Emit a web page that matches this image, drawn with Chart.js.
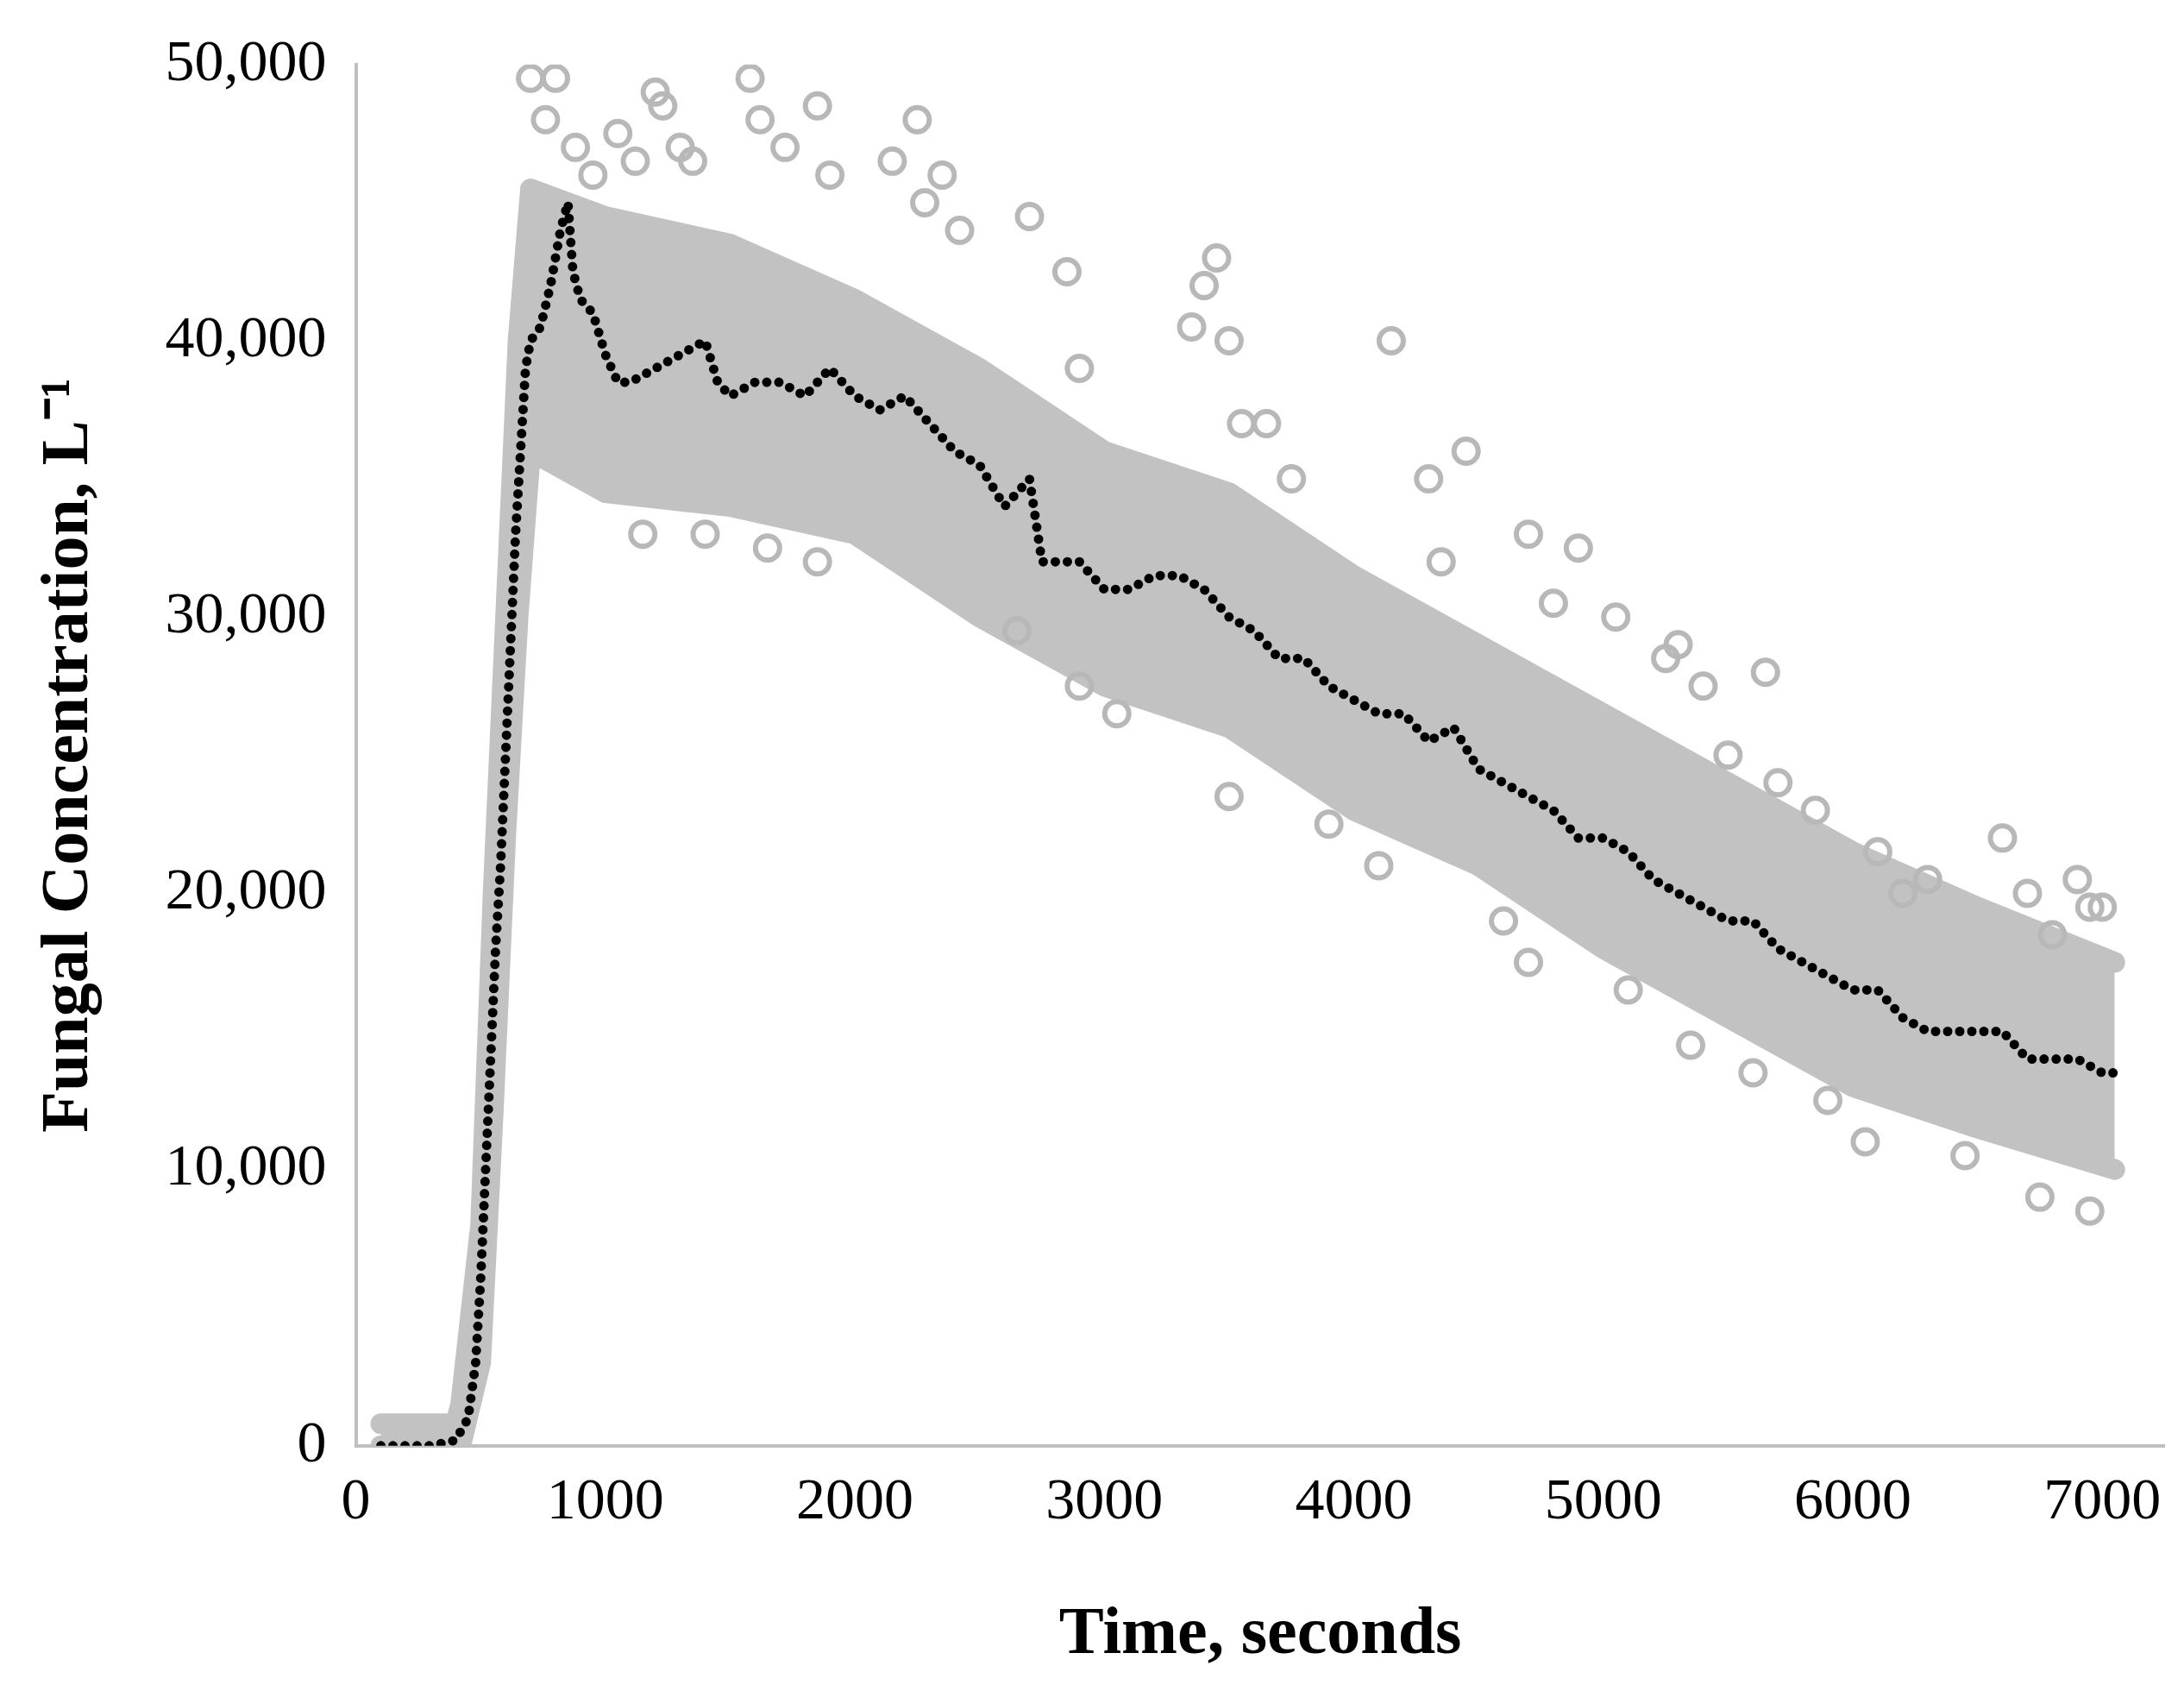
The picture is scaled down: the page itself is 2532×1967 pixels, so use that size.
<!DOCTYPE html>
<html lang="en">
<head>
  <meta charset="UTF-8" />
  <title>Fungal Concentration</title>
  <script src="https://cdn.jsdelivr.net/npm/chart.js"></script>
  <style>
    html, body { margin: 0; background: #fff; }
    #wrap { width: 2532px; height: 1967px; }
  </style>
</head>
<body>
  <div id="wrap"><canvas id="chart"></canvas></div>
  <script>
    // moving average (black dots)
    const avgX = [100,200,300,400,450,480,500,520,540,560,580,600,620,640,660,680,700,740,780,820,850,870,900,950,1000,1050,1100,1200,1300,1400,1450,1500,1600,1700,1800,1900,2000,2100,2200,2300,2400,2500,2600,2700,2750,2800,2900,3000,3100,3200,3300,3400,3500,3600,3700,3800,3900,4000,4100,4200,4300,4400,4500,4600,4700,4800,4900,5000,5100,5200,5300,5400,5500,5600,5700,5800,5900,6000,6100,6200,6300,6400,6500,6600,6700,6800,6900,7000,7050];
    const avgY = [0,0,0,200,1000,3000,6000,10000,14000,18000,21000,25000,29000,33000,36000,39000,40000,40500,42000,44000,45000,42500,41500,41000,39500,38500,38500,39000,39500,40000,38500,38000,38500,38500,38000,39000,38000,37500,38000,37000,36000,35500,34000,35000,32000,32000,32000,31000,31000,31500,31500,31000,30000,29500,28500,28500,27500,27000,26500,26500,25500,26000,24500,24000,23500,23000,22000,22000,21500,20500,20000,19500,19000,19000,18000,17500,17000,16500,16500,15500,15000,15000,15000,15000,14000,14000,14000,13500,13500];

    // envelope of the dense grey cloud
    const bandX = [100,400,420,500,550,600,650,700,1000,1500,2000,2500,3000,3500,4000,4500,5000,5500,6000,6500,7050];
    const bandHi = [800,800,1500,8000,20000,30000,40000,45500,44500,43500,41500,39000,36000,34500,31500,29000,26500,24000,21500,19500,17500];
    const bandLo = [0,0,0,3000,12000,22000,30000,36000,34500,34000,33000,30000,27500,26000,23000,21000,18000,15500,13000,11500,10000];

    // scattered grey outliers
    const outX = [700,760,800,880,950,1050,1120,1200,1230,1300,1350,1580,1620,1720,1850,1900,2150,2250,2280,2350,2420,2700,2850,2900,3350,3400,3450,3500,3550,3650,3750,4150,4300,4350,4450,4700,4800,4900,5050,5250,5300,5400,5500,5650,5700,5850,6100,6200,6300,6600,6700,6800,6900,6950,7000,1150,1400,1650,1850,2650,2900,3050,3500,3900,4100,4600,4700,5100,5350,5600,5900,6050,6450,6750,6950];
    const outY = [49500,48000,49500,47000,46000,47500,46500,49000,48500,47000,46500,49500,48000,47000,48500,46000,46500,48000,45000,46000,44000,44500,42500,39000,40500,42000,43000,40000,37000,37000,35000,40000,35000,32000,36000,33000,30500,32500,30000,28500,29000,27500,25000,28000,24000,23000,21500,20000,20500,22000,20000,18500,20500,19500,19500,33000,33000,32500,32000,29500,27500,26500,23500,22500,21000,19000,17500,16500,14500,13500,12500,11000,10500,9000,8500];

    const xTicks = [0,1000,2000,3000,4000,5000,6000,7000];
    const yTicks = [0,10000,20000,30000,40000,50000];

    const pts = (xs, ys) => xs.map((x, i) => ({ x: x, y: ys[i] }));
    const grey = '#c2c2c2';

    new Chart(document.getElementById('chart'), {
      type: 'scatter',
      data: {
        datasets: [
          { data: pts(bandX, bandLo), showLine: true, borderColor: grey, borderWidth: 24, borderJoinStyle: 'round', borderCapStyle: 'round', pointRadius: 0, fill: false, order: 4 },
          { data: pts(bandX, bandHi), showLine: true, borderColor: grey, borderWidth: 24, borderJoinStyle: 'round', borderCapStyle: 'round', pointRadius: 0, backgroundColor: grey, fill: '-1', order: 3 },
          { data: pts(outX, outY), pointRadius: 14, pointBorderWidth: 6, borderColor: '#b8b8b8', backgroundColor: 'rgba(0,0,0,0)', order: 2 },
          { data: pts(avgX, avgY), showLine: true, borderColor: '#000', borderWidth: 11, borderCapStyle: 'round', borderDash: [0, 14], pointRadius: 0, order: 1 }
        ]
      },
      options: {
        responsive: true,
        maintainAspectRatio: false,
        animation: false,
        layout: { padding: { top: 50, right: 22, left: 30, bottom: 20 } },
        plugins: { legend: { display: false }, tooltip: { enabled: false } },
        scales: {
          x: {
            type: 'linear', min: 0, max: 7250,
            afterBuildTicks: s => { s.ticks = xTicks.map(v => ({ value: v })); },
            grid: { display: false, drawTicks: false },
            border: { color: '#bfbfbf', width: 4 },
            ticks: { color: '#000', padding: 26, font: { family: 'Liberation Serif', size: 68 }, callback: v => String(v) },
            title: { display: true, text: 'Time, seconds', color: '#000', padding: { top: 40 }, font: { family: 'Liberation Serif', size: 78, weight: 'bold' } }
          },
          y: {
            min: 0, max: 50000,
            afterBuildTicks: s => { s.ticks = yTicks.map(v => ({ value: v })); },
            grid: { display: false, drawTicks: false },
            border: { color: '#bfbfbf', width: 4 },
            ticks: { color: '#000', padding: 34, font: { family: 'Liberation Serif', size: 68 }, callback: v => v.toLocaleString('en-US') },
            title: { display: true, text: 'Fungal Concentration, L⁻¹', color: '#000', padding: { bottom: 30 }, font: { family: 'Liberation Serif', size: 78, weight: 'bold' } }
          }
        }
      }
    });
  </script>
</body>
</html>
